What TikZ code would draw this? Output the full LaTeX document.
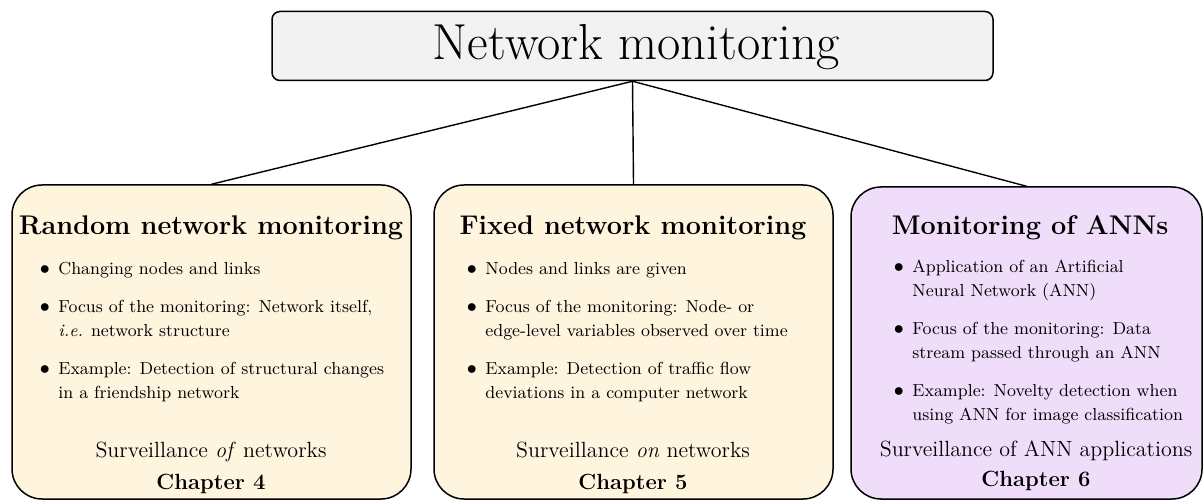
\documentclass[tikz,border=0pt]{standalone}
\usepackage{enumitem}
\definecolor{topfill}{RGB}{242,242,242}
\definecolor{creamfill}{RGB}{255,245,222}
\definecolor{lilacfill}{RGB}{239,221,250}
\setlist[itemize]{label={\fontsize{10}{12}\selectfont$\bullet$},leftmargin=10pt,labelsep=4.3pt,topsep=0pt,partopsep=0pt,parsep=0pt,itemsep=7pt}
\newcommand{\bulletlist}[1]{\begin{minipage}[t]{210pt}\fontsize{8.7}{12}\selectfont\raggedright\begin{itemize}#1\end{itemize}\end{minipage}}
\begin{document}
\begin{tikzpicture}[x=0.5pt,y=-0.5pt,
  topbox/.style={draw=black,line width=0.75pt,fill=topfill,rounded corners=4pt,inner sep=0pt},
  areabox/.style={draw=black,line width=0.75pt,rounded corners=15pt,inner sep=0pt},
  link/.style={line width=0.7pt},
  heading/.style={anchor=base,inner sep=0pt,font=\fontsize{13.5}{16}\bfseries\selectfont},
  items/.style={anchor=base west,inner sep=0pt},
  tagline/.style={anchor=base,inner sep=0pt,font=\fontsize{11}{13}\selectfont},
  chapter/.style={anchor=base,inner sep=0pt,font=\fontsize{11}{13}\bfseries\selectfont}]
\useasboundingbox (0,0) rectangle (1203,501);

% top node
\node[topbox,minimum width=360.5pt,minimum height=34.5pt] (top) at (632.5,46) {};
\node[anchor=base,inner sep=0pt,font=\fontsize{25.3}{30}\selectfont] (toptext) at (636.5,60) {Network monitoring};

% the three areas
\node[areabox,fill=creamfill,minimum width=199.5pt,minimum height=157pt] (rand) at (211.5,499-157) {};
\node[areabox,fill=creamfill,minimum width=199.5pt,minimum height=157pt] (fixed) at (633.5,499-157) {};
\node[areabox,fill=lilacfill,minimum width=175.5pt,minimum height=156pt] (ann) at (1026.5,499-156) {};

% connectors
\draw[link] (top.south) -- (rand.north);
\draw[link] (top.south) -- (fixed.north);
\draw[link] (top.south) -- (ann.north);

% random network monitoring
\node[heading] (randhead) at (211,235) {Random network monitoring};
\node[items] (randlist) at (38,275) {\bulletlist{%
  \item Changing nodes and links
  \item Focus of the monitoring: Network itself,\newline \textit{i.e.} network structure
  \item Example: Detection of structural changes\newline in a friendship network}};
\node[tagline] (randtag) at (211,458) {Surveillance \textit{of} networks};
\node[chapter] (randchap) at (211,489) {Chapter 4};

% fixed network monitoring
\node[heading] (fixedhead) at (633,235) {Fixed network monitoring};
\node[items] (fixedlist) at (465,275) {\bulletlist{%
  \item Nodes and links are given
  \item Focus of the monitoring: Node- or\newline edge-level variables observed over time
  \item Example: Detection of traffic flow\newline deviations in a computer network}};
\node[tagline] (fixedtag) at (633,458) {Surveillance \textit{on} networks};
\node[chapter] (fixedchap) at (633,489) {Chapter 5};

% monitoring of ANNs
\node[heading] (annhead) at (1030,235) {Monitoring of ANNs};
\node[items] (annlist) at (892,273) {\bulletlist{%
  \item Application of an Artificial\newline Neural Network (ANN)
  \item Focus of the monitoring: Data\newline stream passed through an ANN
  \item Example: Novelty detection when\newline using ANN for image classification}};
\node[tagline] (anntag) at (1036,457) {Surveillance of ANN applications};
\node[chapter] (annchap) at (1036,487) {Chapter 6};
\end{tikzpicture}
\end{document}
